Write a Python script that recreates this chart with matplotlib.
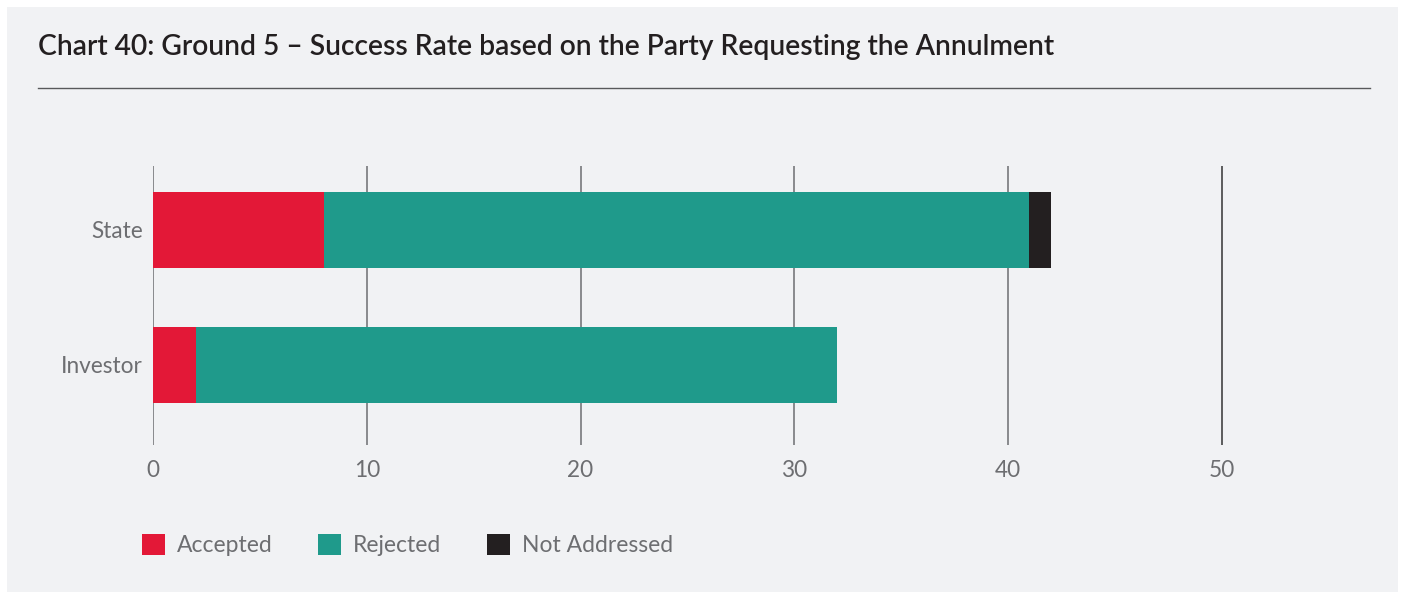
import matplotlib
matplotlib.use("Agg")
import matplotlib.pyplot as plt
from matplotlib.patches import Rectangle
from matplotlib.lines import Line2D

# data
parties = ["Investor", "State"]
accepted = [2, 8]
rejected = [30, 33]
not_addressed = [0, 1]
ticks = [0, 10, 20, 30, 40, 50]

RED = "#e31837"
TEAL = "#1f9a8b"
BLACK = "#231f20"
GREY_TXT = "#6d6e71"
PANEL = "#f1f2f4"

plt.rcParams["font.family"] = ["Lato", "DejaVu Sans"]

W, H = 1405, 599
fig = plt.figure(figsize=(W / 100, H / 100), dpi=100, facecolor="white")

# grey panel behind everything
fig.patches.append(Rectangle((7 / W, 7 / H), (1398 - 7) / W, (592 - 7) / H,
                             transform=fig.transFigure, facecolor=PANEL,
                             edgecolor="none", zorder=-5))

# title and rule
fig.text(38 / W, 1 - 47 / H, "Chart 40: Ground 5 \u2013 Success Rate based on the Party Requesting the Annulment",
         fontsize=20.3, color=BLACK, fontweight="semibold", va="center", ha="left")
fig.add_artist(Line2D([38 / W, 1370 / W], [1 - 88 / H, 1 - 88 / H],
                      transform=fig.transFigure, color="#58595b", linewidth=1.0))

ax = fig.add_axes([153 / W, 1 - 445 / H, (1371.5 - 153) / W, (445 - 166) / H])
ax.set_facecolor("none")

y = list(range(len(parties)))
h = 0.563
left2 = [a + r for a, r in zip(accepted, rejected)]
ax.barh(y, accepted, height=h, color=RED, label="Accepted", zorder=3)
ax.barh(y, rejected, left=accepted, height=h, color=TEAL, label="Rejected", zorder=3)
ax.barh(y, not_addressed, left=left2, height=h, color=BLACK, label="Not Addressed", zorder=3)

ax.set_xlim(0, 57)
ax.set_ylim(-0.593, 1.474)
ax.set_xticks(ticks)
ax.set_yticks(y)
ax.set_yticklabels(parties)
ax.tick_params(axis="both", length=0, labelsize=16.3, labelcolor=GREY_TXT)
ax.tick_params(axis="x", pad=11)
ax.tick_params(axis="y", pad=7.5)
for s in ax.spines.values():
    s.set_visible(False)

ax.grid(axis="x", color="#6d6e71", linewidth=1.1, zorder=1)
ax.set_axisbelow(True)
gl = ax.get_xgridlines()
gl[-1].set_color("#333333")

handles, labels = ax.get_legend_handles_labels()
leg = fig.legend(handles, labels, loc="center left",
                 bbox_to_anchor=(121 / W, 1 - 545 / H), ncol=3, frameon=False,
                 fontsize=16.5, labelcolor=GREY_TXT, handlelength=1.0,
                 handleheight=1.05, handletextpad=0.52, columnspacing=2.0)

fig.savefig("out.png", dpi=100, facecolor="white")
